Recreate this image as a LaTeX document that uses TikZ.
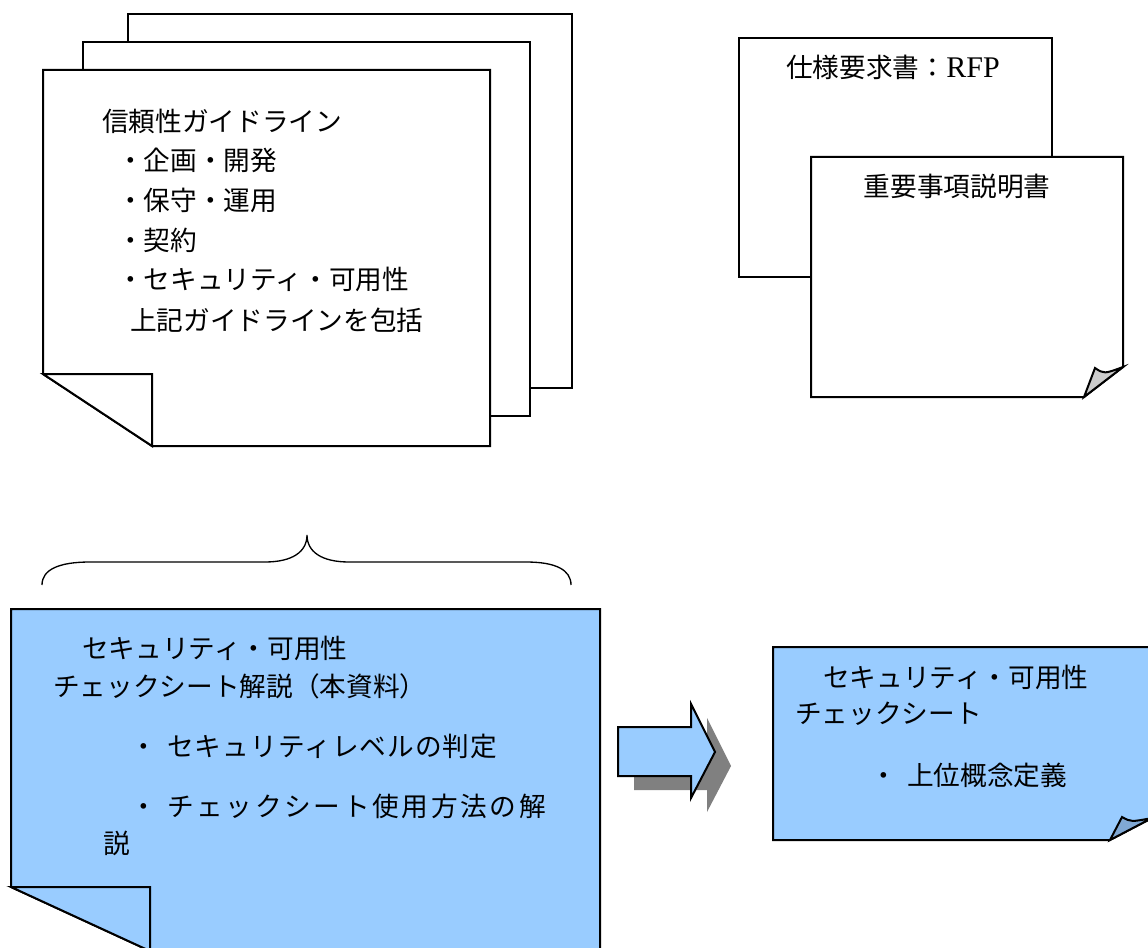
\documentclass[tikz,border=0pt]{standalone}
\usepackage{fontspec}
\setmainfont{Liberation Serif}
\newfontfamily\jp{Noto Sans CJK JP}
\newfontfamily\jpa[LetterSpace=4]{Noto Sans CJK JP}
\newfontfamily\jpb[LetterSpace=10]{Noto Sans CJK JP}
\definecolor{paleblue}{HTML}{99CCFF}
\definecolor{curlblue}{HTML}{80A8D4}
\definecolor{curlgray}{HTML}{CCCCCC}
\definecolor{shadowgray}{HTML}{808080}
\begin{document}
\begin{tikzpicture}[x=0.75pt,y=-0.75pt,line join=miter]
\tikzset{
  pg/.style={draw=black,line width=1.5pt,fill=white},
  bl/.style={draw=black,line width=1.5pt,fill=paleblue},
  lbl/.style={anchor=base west,inner sep=0pt,font=\jp\fontsize{20}{24}\selectfont},
  bracestyle/.style={draw=black,line width=1pt}
}
\useasboundingbox (0,0) rectangle (1148,948);
\fill[white] (0,0) rectangle (1148,948);

% ---- left stack of guideline pages
\draw[pg] (128,14) rectangle (572,388);
\draw[pg] (83,42) rectangle (530,416);
\fill[white] (43,70) rectangle (490,446);
\draw[pg] (43,70) -- (490,70) -- (490,446) -- (152,446) -- (43,374) -- cycle;
\draw[pg] (43,374) -- (152,374) -- (152,446) -- cycle;

\node[lbl] (g1) at (102,132) {信頼性ガイドライン};
\node[lbl] (g2) at (117,171) {・企画・開発};
\node[lbl] (g3) at (117,211) {・保守・運用};
\node[lbl] (g4) at (117,251) {・契約};
\node[lbl] (g5) at (117,290) {・セキュリティ・可用性};
\node[lbl] (g6) at (130,330) {上記ガイドラインを包括};

% ---- right top pages
\draw[pg] (739,38) rectangle (1052,277);
\draw[pg] (811,157) -- (1123,157) -- (1123,367) -- (1084,397) -- (811,397) -- cycle;
\draw[pg,fill=curlgray] (1084,397) -- (1095,368) .. controls (1104,374) .. (1123,367) -- cycle;
\node[lbl,anchor=base] (r1) at (893,78) {仕様要求書：{\rmfamily\fontsize{22.5}{26}\selectfont RFP}};
\node[lbl,anchor=base] (r2) at (957,197) {重要事項説明書};

% ---- brace
\draw[bracestyle] (42,585) .. controls (42,570) and (58,562) .. (90,562) -- (265,562)
  .. controls (292,562) and (307,552) .. (307,535)
  .. controls (307,552) and (322,562) .. (349,562) -- (526,562)
  .. controls (556,562) and (571,570) .. (571,585);

% ---- left blue page
\draw[bl] (11,609) -- (600,609) -- (600,951) -- (150,951) -- (11,887) -- cycle;
\draw[bl] (11,887) -- (150,887) -- (150,951) -- cycle;
\node[lbl] (b1) at (82,658) {セキュリティ・可用性};
\node[lbl] (b2) at (53,696) {チェックシート解説（本資料）};
\node[lbl] (b3d) at (130,756) {・};
\node[lbl] (b3) at (167,756) {\jpa セキュリティレベルの判定};
\node[lbl] (b4d) at (130,816) {・};
\node[lbl] (b4) at (167,816) {\jpb チェックシート使用方法の解};
\node[lbl] (b5) at (103,853) {説};

% ---- arrow with shadow
\fill[shadowgray] (634,741) -- (707,741) -- (707,718) -- (731,766) -- (707,812) -- (707,790) -- (634,790) -- cycle;
\draw[bl] (618,727) -- (691,727) -- (691,704) -- (715,752) -- (691,798) -- (691,776) -- (618,776) -- cycle;

% ---- right blue page
\draw[bl] (773,647) -- (1152,647) -- (1152,818) -- (1110,840) -- (773,840) -- cycle;
\draw[bl,fill=curlblue] (1110,840) -- (1122,817) .. controls (1131,822) .. (1152,818) -- cycle;
\node[lbl] (c1) at (823,687) {セキュリティ・可用性};
\node[lbl] (c2) at (795,723) {チェックシート};
\node[lbl] (c3d) at (870,785) {・};
\node[lbl] (c3) at (907,785) {上位概念定義};
\end{tikzpicture}
\end{document}
